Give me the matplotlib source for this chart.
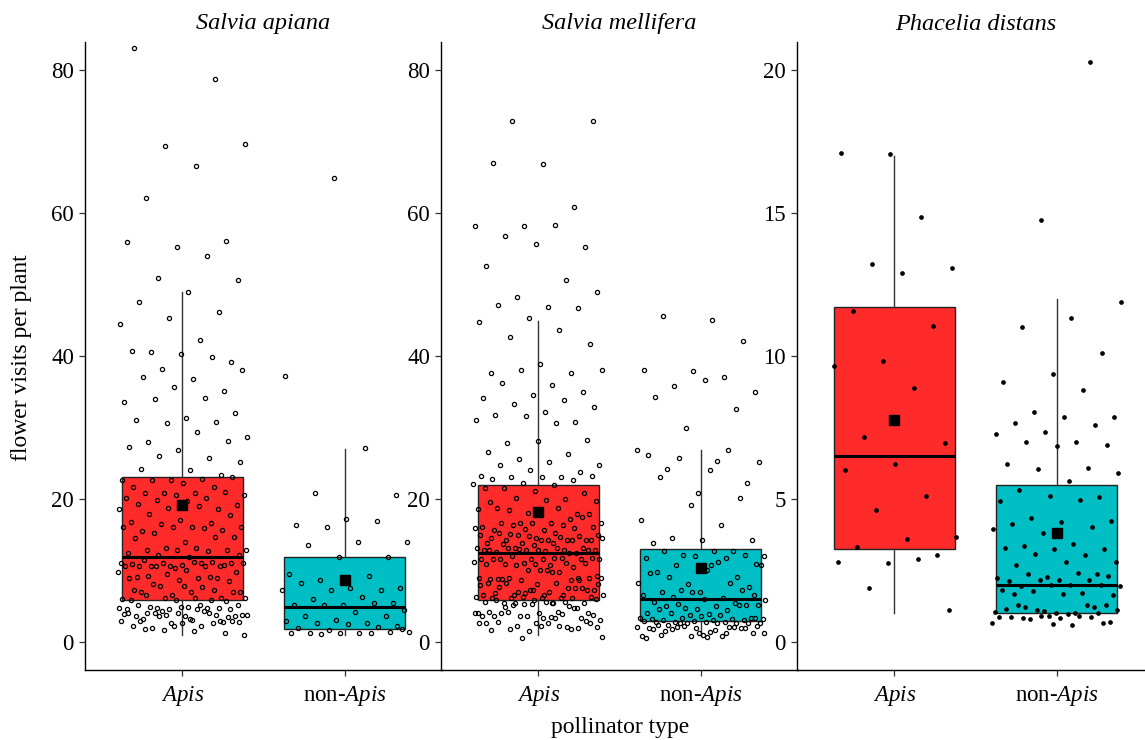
import numpy as np
import matplotlib.pyplot as plt

plt.rcParams['font.family'] = 'Liberation Serif'
plt.rcParams['mathtext.fontset'] = 'custom'
plt.rcParams['mathtext.rm'] = 'Liberation Serif'
plt.rcParams['mathtext.it'] = 'Liberation Serif:italic'

species = ['Salvia apiana', 'Salvia mellifera', 'Phacelia distans']
group_labels = ['$\\mathit{Apis}$', 'non-$\\mathit{Apis}$']
box_colors = ['#FF2B2B', '#00BFC4']

# box statistics per panel: [Apis, non-Apis]
q1 = [[5.9, 1.8], [5.9, 2.9], [3.26, 1.0]]
med = [[11.9, 4.9], [12.4, 6.0], [6.5, 2.0]]
q3 = [[23.1, 11.85], [22.0, 13.0], [11.72, 5.5]]
whis_lo = [[1.0, 1.0], [1.0, 0.9], [1.0, 1.0]]
whis_hi = [[49.0, 27.0], [44.9, 26.9], [17.0, 12.0]]
means = [[19.2, 8.7], [18.2, 10.4], [7.77, 3.8]]

# flower visits per plant (individual observations)
sa_apis = [83.0, 78.7, 69.4, 69.7, 66.6, 62.1, 56.1, 55.3, 55.9, 54.0, 50.9, 50.6, 49.0, 47.5,
           46.1, 45.3, 44.5, 42.2, 40.6, 39.2, 40.3, 40.7, 39.8, 38.2, 38.0, 36.8, 37.0, 35.1,
           35.7, 33.5, 34.1, 34.0, 32.0, 31.3, 31.1, 30.7, 30.6, 28.7, 29.3, 28.0, 28.1, 26.9,
           27.2, 25.7, 26.0, 25.2, 24.0, 24.2, 23.3,
           22.7, 22.7, 22.8, 22.6, 23.0, 22.2, 21.7, 21.7, 20.9, 20.6, 20.8, 20.8, 21.0, 20.5,
           20.2, 20.2, 19.9, 19.2, 19.7, 19.3, 18.6, 18.7, 18.6, 19.0, 17.9, 17.7, 17.1, 16.8,
           16.6, 16.5, 16.1, 16.1, 15.5, 15.6, 16.1, 16.1, 16.0, 15.2, 14.7, 14.0, 14.6, 14.7,
           13.2, 12.8, 13.2, 12.8, 12.8, 12.8, 12.5, 12.7, 12.1, 12.2, 11.9,
           10.6, 10.6, 10.6, 11.0, 11.1, 10.6, 11.0, 10.7, 10.9, 11.2, 11.0, 11.0, 11.2, 11.5,
           10.7, 10.3, 10.6, 10.6, 10.6, 9.8, 10.0, 9.1, 9.0, 9.5, 9.8, 9.0, 9.2, 8.5, 8.7, 8.9,
           9.1, 7.8, 7.0, 7.0, 7.0, 6.1, 6.5, 6.0, 7.7, 8.1, 7.0, 7.8, 7.2, 7.2, 6.2, 6.1, 6.1,
           6.6, 5.7, 5.9,
           4.6, 4.7, 4.8, 5.1, 4.9, 5.2, 4.7, 4.6, 4.7, 5.1, 4.9, 4.6, 4.9, 5.8, 5.8, 4.3, 3.8,
           3.1, 3.2, 2.8, 2.2, 3.9, 4.3, 4.0, 3.7, 3.7, 3.7, 3.8, 3.8, 3.8, 4.6, 4.0, 3.5, 4.0,
           4.0, 4.0, 3.7, 2.8, 3.2, 2.9, 2.9, 2.6, 3.0, 2.2, 2.0, 3.0, 2.6, 2.2, 2.6, 1.7, 1.0,
           1.6, 1.8, 1.3]
sa_non = [64.9, 37.2, 27.1, 20.9, 20.5, 17.2, 16.4, 16.9, 16.1, 14.0, 14.0, 13.5, 11.9, 11.9,
          9.5, 9.2, 8.6, 7.5, 7.5, 8.2, 7.2, 7.2, 7.3, 6.3, 6.0, 5.5, 5.2, 5.1, 5.4, 5.1, 4.5,
          4.2, 3.6, 3.6, 3.1, 2.9, 2.6, 2.6, 2.3, 2.5, 2.0, 2.1, 1.7, 1.4, 1.2, 1.2, 1.4, 1.3,
          1.2, 1.3, 1.1, 1.8]
sm_apis = [72.8, 72.9, 66.9, 67.0, 60.8, 58.2, 58.2, 58.3, 56.8, 55.3, 55.7, 52.6, 50.6, 48.3,
           48.9, 46.8, 47.1, 46.7, 45.3, 44.7, 43.6, 42.6, 41.6, 38.9, 37.6, 37.6, 38.0, 38.0,
           35.9, 36.2, 34.9, 34.6, 34.1, 33.8, 33.3, 32.9, 32.1, 31.8, 30.7, 31.6, 31.1, 30.6,
           27.8, 28.3, 28.1, 26.6, 26.3, 25.6, 24.8, 25.1, 24.7, 23.8, 24.1, 23.2, 23.1, 23.1,
           23.2, 23.0, 22.8, 22.7, 22.2,
           22.1, 21.9, 21.6, 20.9, 21.1, 21.5, 20.0, 20.1, 19.7, 19.9, 18.8, 17.9, 18.1, 18.6,
           18.8, 18.5, 17.9, 18.6, 19.6, 17.2, 16.7, 16.6, 16.7, 16.7, 17.5, 16.6, 16.1, 16.3,
           16.3, 16.1, 15.7, 15.6, 16.0, 15.8, 15.9, 15.2, 14.2, 14.2, 14.5, 13.8, 14.2, 15.0,
           14.9, 14.3, 15.2, 14.8, 14.8, 14.9, 14.7, 15.1, 14.2, 14.2, 14.5, 14.3, 13.8, 14.5,
           13.9, 13.7, 13.1, 13.6, 12.9, 12.8, 13.1, 12.9, 12.7, 12.6, 12.5, 12.8, 13.1, 13.1,
           13.1, 12.9, 12.8, 12.8, 12.5, 13.0,
           11.6, 10.8, 11.6, 11.6, 11.6, 11.6, 11.7, 12.0, 11.8, 11.6, 11.6, 10.5, 11.1, 11.2,
           11.7, 10.9, 11.0, 10.9, 10.9, 11.0, 10.8, 9.2, 10.1, 8.8, 8.9, 10.0, 8.9, 9.8, 9.0,
           8.9, 10.0, 8.8, 8.7, 8.7, 9.0, 9.8, 8.8, 7.6, 7.2, 6.6, 6.6, 6.6, 7.2, 6.6, 6.9, 7.6,
           6.9, 6.3, 8.3, 8.2, 7.3, 8.1, 8.2, 7.6, 7.0, 8.1, 7.0, 7.7, 8.7, 7.2, 7.9, 6.2, 6.1,
           6.3, 6.2, 6.1, 6.1, 6.3, 6.6,
           5.5, 5.5, 5.5, 5.8, 5.6, 5.6, 5.5, 6.0, 5.6, 5.9, 4.8, 3.7, 4.0, 4.2, 4.2, 4.1, 4.1,
           4.2, 5.0, 3.6, 3.1, 3.5, 4.1, 3.4, 5.3, 3.7, 3.9, 5.2, 3.8, 3.3, 3.7, 4.8, 5.3, 4.1,
           3.3, 4.9, 3.0, 2.6, 2.7, 2.1, 2.3, 2.1, 2.6, 2.8, 1.9, 1.5, 2.6, 2.3, 1.8, 2.6, 2.3,
           1.7, 1.8, 0.5, 0.7, 5.4]
sm_non = [45.0, 45.6, 42.1, 37.9, 38.1, 37.0, 35.8, 35.0, 36.7, 34.2, 32.6, 29.9, 26.9, 25.3,
          24.2, 22.2, 20.9, 26.1, 26.8, 25.7, 25.1, 24.1, 23.0, 20.2, 19.2, 17.0, 16.3, 14.6,
          14.2, 14.3, 13.9,
          12.7, 12.2, 12.0, 12.7, 12.7, 12.2, 12.0, 11.8, 11.8, 10.7, 10.9, 10.0, 9.8, 9.1, 8.1,
          8.2, 11.2, 9.1, 7.7, 7.0, 9.6, 8.2, 7.2, 10.7, 10.7, 7.0, 7.2, 7.0, 6.5, 6.1, 6.3,
          6.6, 6.0, 5.6,
          5.5, 4.8, 5.8, 5.0, 5.0, 5.1, 4.6, 4.1, 4.5, 5.3, 5.2, 3.9, 4.6, 5.2, 3.8, 3.3, 3.8,
          4.0, 3.3, 3.6, 3.2, 3.2, 3.3, 3.2, 3.1, 3.1, 3.1, 3.0, 2.9, 2.8, 2.8, 3.3, 2.8, 2.8,
          2.6, 2.7,
          2.1, 2.7, 2.4, 2.7, 1.3, 1.9, 2.1, 2.7, 2.7, 1.4, 1.0, 1.9, 0.8, 0.9, 0.8, 1.8, 1.3,
          1.0, 1.8, 2.1, 2.2, 1.3, 1.7, 1.5, 1.9, 2.0, 0.5, 1.2, 2.1, 2.3, 0.7, 2.4]
pd_apis = [17.05, 17.09, 14.85, 13.22, 13.06, 12.9, 11.59, 11.06, 9.83, 9.66, 8.87, 7.17, 6.97,
           6.23, 6.01, 5.1, 4.62, 3.66, 3.61, 3.32, 3.04, 2.77, 2.79, 2.89, 1.9, 1.12]
pd_non = [20.29, 14.76, 11.88, 11.32, 11.02, 10.12, 9.36, 9.08, 8.82, 8.04, 7.87, 7.87, 7.65,
          7.6, 7.34, 7.27, 7.01, 7.01, 6.9, 6.85, 6.24, 6.09, 6.04, 5.92, 5.64, 5.31, 5.06,
          5.12, 4.93, 4.98, 4.35, 4.22, 4.18, 4.14, 4.01, 3.81, 3.96, 3.41, 3.36, 3.24, 3.26,
          3.28, 3.05, 3.09, 2.81, 2.79, 2.69, 2.39, 2.26, 2.23, 2.42, 2.36, 2.3, 2.18, 2.13,
          2.15, 2.16, 1.95, 1.98, 1.95, 1.98, 1.98, 1.83, 1.71, 1.79, 1.65, 1.67, 1.69, 1.22,
          1.07, 1.06, 1.02, 1.22, 1.29, 1.02, 1.15, 1.3, 1.13, 1.12, 0.99, 1.29, 1.02, 0.9,
          0.86, 0.91, 0.8, 0.71, 0.83, 0.86, 0.88, 0.9, 0.68, 0.6, 0.83, 0.66, 0.64]

panel_points = [[sa_apis, sa_non], [sm_apis, sm_non], [pd_apis, pd_non]]
yticks = [[0, 20, 40, 60, 80], [0, 20, 40, 60, 80], [0, 5, 10, 15, 20]]
ylims = [(-3.92, 83.9), (-3.92, 83.9), (-0.98, 20.98)]


def jitter(n, seed_off):
    # deterministic horizontal spread, like geom_jitter(width = 0.4)
    return ((np.arange(n) * 0.6180339887 + seed_off) % 1.0 - 0.5) * 0.8


fig = plt.figure(figsize=(11.45, 7.4), dpi=100)
W, H = 1145, 740
lefts = [85, 441, 797]
for p in range(3):
    ax = fig.add_axes([lefts[p] / W, 1 - 670 / H, 357 / W, 628 / H])
    stats = []
    for g in range(2):
        stats.append(dict(med=med[p][g], q1=q1[p][g], q3=q3[p][g], whislo=whis_lo[p][g],
                          whishi=whis_hi[p][g], mean=means[p][g], fliers=[]))
    bp = ax.bxp(stats, positions=[1, 2], widths=0.75, patch_artist=True, showmeans=True,
                showcaps=False, showfliers=False,
                boxprops=dict(edgecolor='#222222', linewidth=1.0),
                medianprops=dict(color='black', linewidth=2.2),
                whiskerprops=dict(color='#333333', linewidth=1.0),
                meanprops=dict(marker='s', markerfacecolor='black', markeredgecolor='black',
                               markersize=7))
    for patch, c in zip(bp['boxes'], box_colors):
        patch.set_facecolor(c)
    for g in range(2):
        vals = np.array(panel_points[p][g])
        xs = g + 1 + jitter(len(vals), 0.13 + 0.29 * g + 0.17 * p)
        if p < 2:
            ax.plot(xs, vals, 'o', ms=3.0, mfc='none', mec='black', mew=0.9, zorder=5)
        else:
            ax.plot(xs, vals, 'o', ms=2.8, mfc='black', mec='black', mew=0.5, zorder=5)

    ax.set_xlim(0.4, 2.6)
    ax.set_ylim(*ylims[p])
    ax.set_yticks(yticks[p])
    ax.set_xticks([1, 2])
    ax.set_xticklabels(group_labels)
    for s in ['top', 'right']:
        ax.spines[s].set_visible(False)
    for s in ['left', 'bottom']:
        ax.spines[s].set_linewidth(1.0)
        ax.spines[s].set_color('black')
    ax.tick_params(axis='both', length=4, width=0.9, color='#333333', labelsize=16.5,
                   labelcolor='black')
    ax.tick_params(axis='x', pad=6)
    ax.tick_params(axis='y', pad=4)
    ax.set_title(species[p], style='italic', fontsize=17.5, pad=9)
    ax.patch.set_alpha(0)

fig.text(22 / W, 1 - 358 / H, 'flower visits per plant', rotation=90, ha='center',
         va='center', fontsize=17)
fig.text(620 / W, 1 - 728 / H, 'pollinator type', ha='center', va='center', fontsize=17)

fig.savefig('out.png', dpi=100)
